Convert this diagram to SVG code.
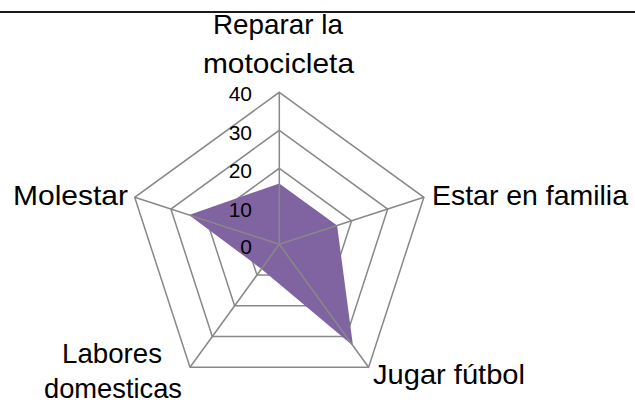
<svg xmlns="http://www.w3.org/2000/svg" width="635" height="404" viewBox="0 0 635 404">
<style>
.grid{fill:none;stroke:#888888;stroke-width:1.5;stroke-linejoin:miter}
.axis{stroke:#888888;stroke-width:1.5}
.series{fill:#8064A2;stroke:none}
.cat{font-family:"Liberation Sans",Arial,sans-serif;font-size:28px;fill:#000}
.tick{font-family:"Liberation Sans",Arial,sans-serif;font-size:21px;fill:#000;text-anchor:end}
</style>
<rect x="0" y="0" width="635" height="404" fill="#fff"/>
<line x1="0" y1="12" x2="635" y2="12" stroke="#1a1a1a" stroke-width="2"/>
<g id="gridlines">
<polygon class="grid" points="279.3,92.3 423.9,197.3 368.6,367.3 190,367.3 134.7,197.3"/>
<polygon class="grid" points="279.3,130.3 387.7,209.1 346.3,336.5 212.3,336.5 170.9,209.1"/>
<polygon class="grid" points="279.3,168.3 351.6,220.8 324.0,305.8 234.6,305.8 207.0,220.8"/>
<polygon class="grid" points="279.3,206.3 315.4,232.6 301.6,275.1 257.0,275.1 243.2,232.6"/>
</g>
<g id="series">
<polygon class="series" points="279.3,183.5 337.1,225.5 353.0,345.8 261.4,268.9 189.0,214.9"/>
</g>
<g id="connectors">
<line class="axis" x1="279.3" y1="244.3" x2="279.3" y2="92.3"/>
<line class="axis" x1="279.3" y1="244.3" x2="423.9" y2="197.3"/>
<line class="axis" x1="279.3" y1="244.3" x2="368.6" y2="367.3"/>
<line class="axis" x1="279.3" y1="244.3" x2="190" y2="367.3"/>
<line class="axis" x1="279.3" y1="244.3" x2="134.7" y2="197.3"/>
</g>
<g id="ticks">
<text class="tick" x="252" y="101">40</text>
<text class="tick" x="252" y="139.5">30</text>
<text class="tick" x="252" y="178">20</text>
<text class="tick" x="252" y="216.5">10</text>
<text class="tick" x="252" y="254">0</text>
</g>
<g id="node-reparar">
<text class="cat" x="278" y="34" text-anchor="middle" textLength="130" lengthAdjust="spacingAndGlyphs">Reparar la</text>
<text class="cat" x="278.5" y="72.5" text-anchor="middle" textLength="151" lengthAdjust="spacingAndGlyphs">motocicleta</text>
</g>
<g id="node-estar">
<text class="cat" x="432" y="205" textLength="196" lengthAdjust="spacingAndGlyphs">Estar en familia</text>
</g>
<g id="node-jugar">
<text class="cat" x="373" y="384" textLength="152" lengthAdjust="spacingAndGlyphs">Jugar fútbol</text>
</g>
<g id="node-labores">
<text class="cat" x="112" y="363" text-anchor="middle" textLength="100" lengthAdjust="spacingAndGlyphs">Labores</text>
<text class="cat" x="113" y="398" text-anchor="middle" textLength="138" lengthAdjust="spacingAndGlyphs">domesticas</text>
</g>
<g id="node-molestar">
<text class="cat" x="128" y="205" text-anchor="end" textLength="115" lengthAdjust="spacingAndGlyphs">Molestar</text>
</g>
</svg>
